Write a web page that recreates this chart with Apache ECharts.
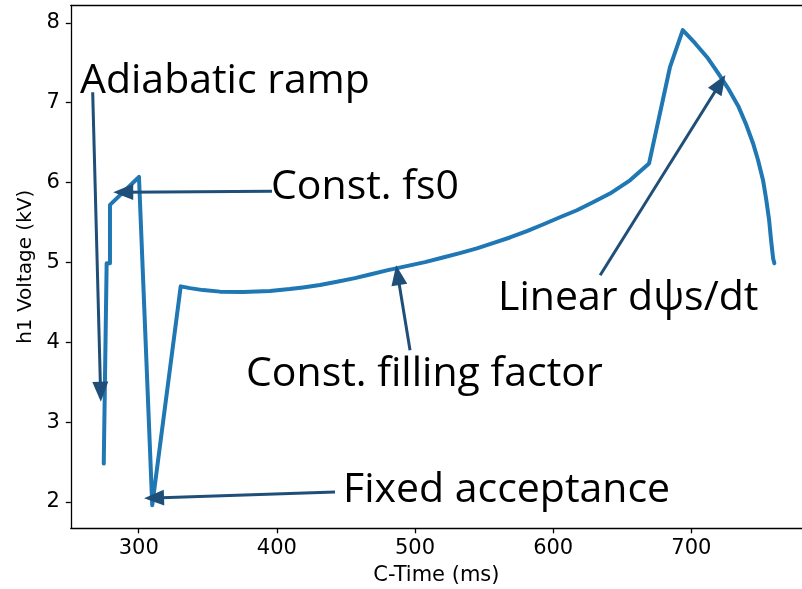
<!DOCTYPE html>
<html>
<head>
<meta charset="utf-8">
<script src="https://cdn.jsdelivr.net/npm/echarts@6/dist/echarts.min.js"></script>
<style>
html,body{margin:0;padding:0;background:#fff;overflow:hidden;}
#chart{width:802px;height:589px;}
</style>
</head>
<body>
<div id="chart"></div>
<script>
// C-Time (ms)
const cTime = [274.7, 276.8, 279.2, 279.2, 300.2, 309.8, 330.4, 337.1, 346.5, 358.9, 375.5, 395.0, 409.3, 418.9, 431.2, 443.5, 456.5, 467.4, 480.4, 491.3, 507.2, 520.2, 532.5, 544.8, 556.4, 568.7, 581.0, 592.6, 604.9, 617.2, 628.8, 641.1, 655.6, 669.4, 684.6, 693.8, 702.7, 711.4, 719.4, 726.6, 733.9, 739.6, 744.7, 748.3, 751.9, 754.1, 756.3, 757.7, 759.2, 760.1];
// h1 Voltage (kV)
const h1Voltage = [2.48, 4.99, 4.99, 5.72, 6.07, 1.96, 4.70, 4.678, 4.653, 4.634, 4.628, 4.641, 4.666, 4.687, 4.716, 4.757, 4.803, 4.849, 4.903, 4.944, 5.003, 5.062, 5.116, 5.175, 5.241, 5.312, 5.391, 5.475, 5.566, 5.653, 5.753, 5.862, 6.028, 6.24, 7.45, 7.91, 7.745, 7.57, 7.37, 7.18, 6.96, 6.73, 6.49, 6.28, 6.03, 5.80, 5.53, 5.28, 5.05, 4.99];
const xTicks = [300, 400, 500, 600, 700];
const yTicks = [2, 3, 4, 5, 6, 7, 8];
// annotation arrows: [fromX, fromY, toX, toY] in data units
const arrowAdiabatic = [266.7, 7.13, 272.4, 3.38];
const arrowFs0 = [396.5, 5.89, 288.8, 5.88];
const arrowFixed = [442.1, 2.125, 311.1, 2.05];
const arrowFilling = [496.4, 3.90, 487.5, 4.84];
const arrowLinear = [634.0, 4.84, 720.8, 7.24];
const annotationTexts = ['Adiabatic ramp', 'Const. fs0', 'Linear dψs/dt', 'Const. filling factor', 'Fixed acceptance'];

const arrows = [arrowAdiabatic, arrowFs0, arrowFixed, arrowFilling, arrowLinear];
const chart = echarts.init(document.getElementById('chart'));
const lineData = cTime.map((t, i) => [t, h1Voltage[i]]);
const annFont = {fontFamily: 'Open Sans', fontSize: 41, fill: '#000'};
const axisLineStyle = {color: '#000', width: 1.3};

chart.setOption({
  animation: false,
  backgroundColor: '#fff',
  grid: {left: 70.8, top: 5.3, bottom: 60.7, right: 0, outerBoundsMode: 'none', containLabel: false},
  xAxis: [{
    type: 'value', min: 250.85, max: 780.1,
    name: 'C-Time (ms)', nameLocation: 'middle', nameGap: 37,
    nameTextStyle: {fontFamily: 'DejaVu Sans', fontSize: 21, color: '#000'},
    axisLine: {show: true, lineStyle: axisLineStyle},
    axisTick: {show: true, length: 5, customValues: xTicks, lineStyle: axisLineStyle},
    axisLabel: {customValues: xTicks, fontFamily: 'DejaVu Sans', fontSize: 21, color: '#000', margin: 10},
    splitLine: {show: false}
  }, {
    type: 'value', position: 'top', min: 250.85, max: 780.1,
    axisLine: {show: true, onZero: false, lineStyle: axisLineStyle},
    axisTick: {show: false}, axisLabel: {show: false}, splitLine: {show: false}
  }],
  yAxis: {
    type: 'value', min: 1.67, max: 8.22,
    name: 'h1 Voltage (kV)', nameLocation: 'middle', nameGap: 25,
    nameTextStyle: {fontFamily: 'DejaVu Sans', fontSize: 20, color: '#000'},
    axisLine: {show: true, onZero: false, lineStyle: axisLineStyle},
    axisTick: {show: true, length: 5, customValues: yTicks, lineStyle: axisLineStyle},
    axisLabel: {customValues: yTicks, fontFamily: 'DejaVu Sans', fontSize: 21, color: '#000', margin: 11},
    splitLine: {show: false}
  },
  series: [{
    type: 'line', data: lineData, showSymbol: false, smooth: false,
    lineStyle: {color: '#1f77b4', width: 4, join: 'round', cap: 'round'},
    markLine: {
      silent: true, symbol: ['none', 'triangle'], symbolSize: [16, 20],
      label: {show: false},
      lineStyle: {color: '#1f4e79', width: 3, type: 'solid'},
      data: arrows.map(a => [{coord: [a[0], a[1]]}, {coord: [a[2], a[3]]}])
    }
  }],
  graphic: [
    {type: 'text', left: 80, top: 61, style: Object.assign({text: annotationTexts[0]}, annFont)},
    {type: 'text', left: 271, top: 167, style: Object.assign({text: annotationTexts[1]}, annFont)},
    {type: 'text', left: 498, top: 278, style: Object.assign({text: annotationTexts[2]}, annFont)},
    {type: 'text', left: 246, top: 354, style: Object.assign({text: annotationTexts[3]}, annFont)},
    {type: 'text', left: 343, top: 470, style: Object.assign({text: annotationTexts[4]}, annFont)}
  ]
});
</script>
</body>
</html>
